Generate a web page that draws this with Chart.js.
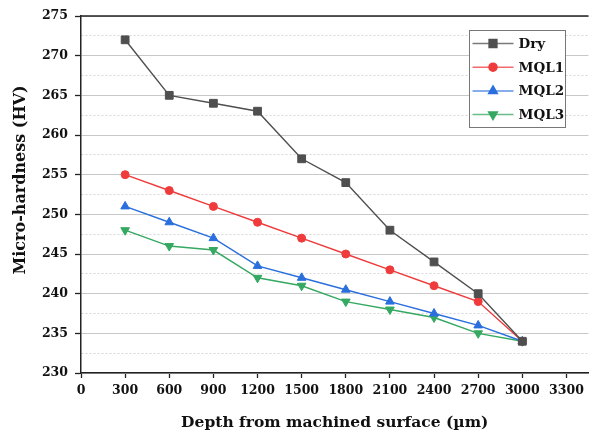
<!DOCTYPE html>
<html>
<head>
<meta charset="utf-8">
<script src="https://cdn.jsdelivr.net/npm/chart.js@4"></script>
<style>
  html, body { margin: 0; padding: 0; background: #fff; }
  #wrap { width: 595px; height: 434px; }
</style>
</head>
<body>
<div id="wrap"><canvas id="myChart"></canvas></div>
<script>
// depth below the machined surface (um)
const depths = [300, 600, 900, 1200, 1500, 1800, 2100, 2400, 2700, 3000];
const depthTicks = [0, 300, 600, 900, 1200, 1500, 1800, 2100, 2400, 2700, 3000, 3300];

// micro-hardness (HV) for each cooling condition
const dryHV  = [272, 265, 264, 263, 257, 254, 248, 244, 240, 234];
const mql1HV = [255, 253, 251, 249, 247, 245, 243, 241, 239, 234];
const mql2HV = [251, 249, 247, 243.5, 242, 240.5, 239, 237.5, 236, 234];
const mql3HV = [248, 246, 245.5, 242, 241, 239, 238, 237, 235, 234];

const seriesNames = ['Dry', 'MQL1', 'MQL2', 'MQL3'];
const yTitle = 'Micro-hardness (HV)';

const serif = "'DejaVu Serif', 'Liberation Serif', serif";

function toPoints(values) {
    return depths.map((d, i) => ({x: d, y: values[i]}));
}

// legend box inside the plot, the dark frame line on top and the y title
const boxLegend = {
    id: 'boxLegend',
    afterDraw(chart) {
        const ctx = chart.ctx;
        const area = chart.chartArea;
        ctx.save();
        ctx.strokeStyle = '#222';
        ctx.lineWidth = 1.5;
        ctx.beginPath();
        ctx.moveTo(area.left, area.top);
        ctx.lineTo(area.right, area.top);
        ctx.stroke();

        // y axis title sits a bit above the middle of the axis
        ctx.save();
        ctx.translate(21, 180);
        ctx.rotate(-Math.PI / 2);
        ctx.fillStyle = '#111';
        ctx.font = 'bold 16px ' + serif;
        ctx.textAlign = 'center';
        ctx.textBaseline = 'middle';
        ctx.fillText(yTitle, 0, 0);
        ctx.restore();

        const bx = 469.5, by = 30.5, bw = 96, bh = 97;
        ctx.fillStyle = '#fff';
        ctx.fillRect(bx, by, bw, bh);
        ctx.strokeStyle = '#777';
        ctx.lineWidth = 1;
        ctx.strokeRect(bx, by, bw, bh);

        chart.data.datasets.forEach((ds, i) => {
            const y = by + 13 + i * 23.7;
            ctx.globalAlpha = 0.75;
            ctx.strokeStyle = ds.borderColor;
            ctx.lineWidth = 1.5;
            ctx.beginPath();
            ctx.moveTo(bx + 3, y);
            ctx.lineTo(bx + 44, y);
            ctx.stroke();
            ctx.globalAlpha = 1;
            ctx.fillStyle = ds.backgroundColor;
            ctx.strokeStyle = ds.borderColor;
            Chart.helpers.drawPoint(ctx, {
                pointStyle: ds.pointStyle,
                radius: ds.pointRadius,
                rotation: ds.pointRotation || 0,
                borderWidth: 1
            }, bx + 23.5, y);
            ctx.fillStyle = '#111';
            ctx.font = 'bold 13.5px ' + serif;
            ctx.textAlign = 'left';
            ctx.textBaseline = 'middle';
            ctx.fillText(ds.label, bx + 49, y + 1);
        });
        ctx.restore();
    }
};

function makeSet(label, values, color, style, radius, rotation) {
    return {
        label: label,
        data: toPoints(values),
        borderColor: color,
        backgroundColor: color,
        borderWidth: 1.4,
        pointStyle: style,
        pointRadius: radius,
        pointHoverRadius: radius,
        pointRotation: rotation,
        pointBorderWidth: 1,
        tension: 0
    };
}

const ctx = document.getElementById('myChart');
const myChart = new Chart(ctx, {
    type: 'line',
    data: {
        datasets: [
            makeSet(seriesNames[0], dryHV,  '#4f4f4f', 'rect', 5.5, 0),
            makeSet(seriesNames[1], mql1HV, '#ef3b3b', 'circle', 4, 0),
            makeSet(seriesNames[2], mql2HV, '#2a6fdd', 'triangle', 5, 0),
            makeSet(seriesNames[3], mql3HV, '#35a862', 'triangle', 5, 180)
        ]
    },
    options: {
        responsive: true,
        maintainAspectRatio: false,
        animation: false,
        layout: {
            padding: {top: 16, right: 0, left: 0, bottom: 0}
        },
        scales: {
            x: {
                type: 'linear',
                min: 0,
                max: 3450,
                afterBuildTicks: scale => {
                    scale.ticks = depthTicks.map(v => ({value: v}));
                },
                afterFit: scale => { scale.height = 61; },
                ticks: {
                    color: '#111',
                    padding: 5,
                    maxRotation: 0,
                    autoSkip: false,
                    font: {family: serif, size: 12.5, weight: 'bold'},
                    callback: v => String(v)
                },
                grid: {
                    drawOnChartArea: false,
                    tickLength: 5,
                    tickColor: '#222',
                    tickWidth: 1.3
                },
                border: {color: '#222', width: 1.5},
                title: {
                    display: true,
                    text: 'Depth from machined surface (\u00b5m)',
                    color: '#111',
                    padding: {top: 0, bottom: 2},
                    font: {family: serif, size: 15.5, weight: 'bold'}
                }
            },
            y: {
                min: 230,
                max: 275,
                afterFit: scale => { scale.width = 81; },
                ticks: {
                    stepSize: 2.5,
                    color: '#111',
                    padding: 7,
                    font: {family: serif, size: 12.5, weight: 'bold'},
                    callback: v => (v % 5 === 0 ? String(v) : '')
                },
                grid: {
                    color: c => (c.tick && c.tick.value % 5 === 0 ? '#c8c8c8' : '#d6d6d6'),
                    lineWidth: 1,
                    tickLength: 6,
                    tickWidth: 1.3,
                    tickColor: c => (c.tick && c.tick.value % 5 === 0 ? '#222' : 'rgba(0,0,0,0)')
                },
                border: {
                    color: '#222',
                    width: 1.5,
                    dash: c => (c.tick && c.tick.value % 5 !== 0 ? [2, 2] : [])
                },
                title: {display: false}
            }
        },
        plugins: {
            legend: {display: false},
            tooltip: {enabled: false}
        }
    },
    plugins: [boxLegend]
});
</script>
</body>
</html>
